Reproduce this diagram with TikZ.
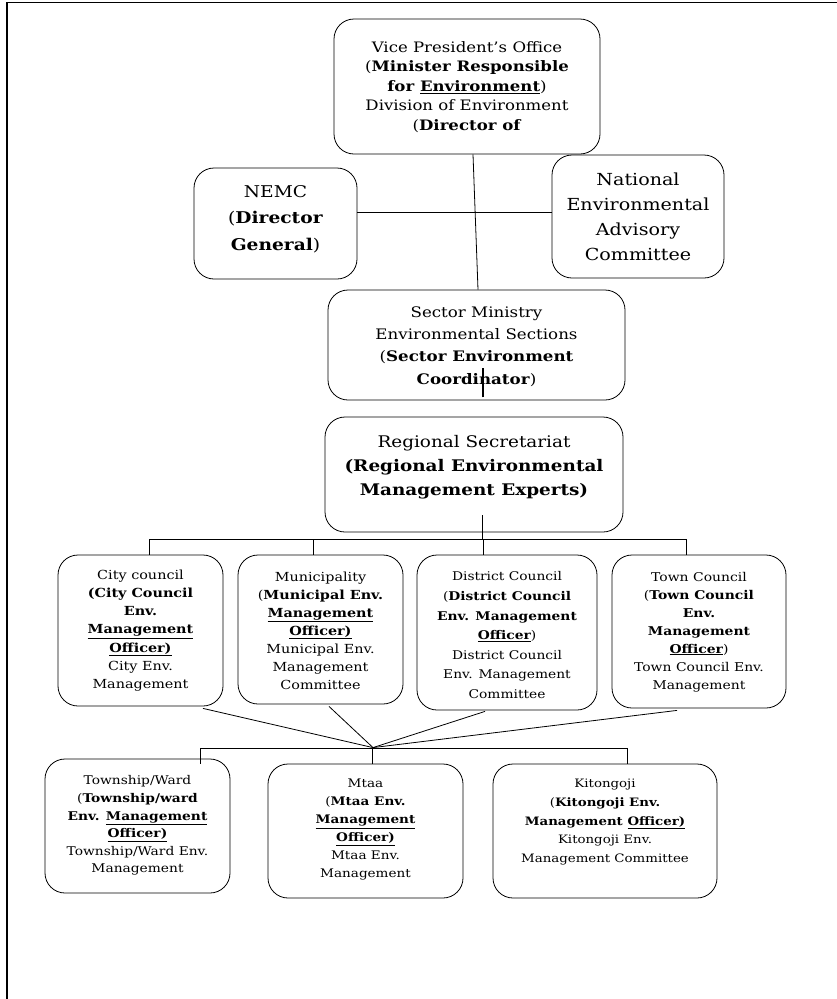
\documentclass[tikz,border=0pt]{standalone}
\usepackage{fontspec}
\setmainfont{DejaVu Serif}[FakeStretch=1.15]
\usetikzlibrary{calc}
\tikzset{
  orgbox/.style={draw, line width=0.8pt, rounded corners=20pt, inner sep=0pt},
  boxtext/.style={inner sep=0pt, align=center, anchor=north},
  link/.style={line width=0.8pt},
}
\begin{document}
\begin{tikzpicture}[x=1pt,y=-1pt]
\useasboundingbox (0,0) rectangle (837,999);
% frame
\draw[line width=1.5pt] (7,999) -- (7,2.5) -- (837,2.5);
% boxes
\node[orgbox, minimum width=266pt, minimum height=135pt] (vpo) at (467,86.5) {};
\node[orgbox, minimum width=163pt, minimum height=111pt] (nemc) at (275.5,223.5) {};
\node[orgbox, minimum width=172pt, minimum height=123pt] (neac) at (638,216.5) {};
\node[orgbox, minimum width=297pt, minimum height=110pt] (sector) at (476.5,345) {};
\node[orgbox, minimum width=298pt, minimum height=115pt] (regional) at (474,474.5) {};
\node[orgbox, minimum width=165pt, minimum height=151pt] (city) at (140.5,630.5) {};
\node[orgbox, minimum width=165pt, minimum height=149pt] (muni) at (320.5,629.5) {};
\node[orgbox, minimum width=180pt, minimum height=155pt] (district) at (507,632.5) {};
\node[orgbox, minimum width=174pt, minimum height=153pt] (town) at (699,631.5) {};
\node[orgbox, minimum width=185pt, minimum height=134pt] (township) at (137.5,826) {};
\node[orgbox, minimum width=195pt, minimum height=134pt] (mtaa) at (365.5,831) {};
\node[orgbox, minimum width=224pt, minimum height=134pt] (kitongoji) at (605,831) {};
% texts
\node[boxtext, font=\fontsize{14.4}{19.5}\selectfont] (vpoT) at ($(vpo.north)+(0,22.5)$)
  {Vice President’s Office\\(\textbf{Minister Responsible}\\\textbf{for \underline{Environment}})\\Division of Environment\\(\textbf{Director of}};
\node[boxtext, font=\fontsize{16.2}{26.5}\selectfont] (nemcT) at ($(nemc.north)+(0,17.5)$)
  {NEMC\\(\textbf{Director}\\\textbf{General})};
\node[boxtext, font=\fontsize{16.6}{25}\selectfont] (neacT) at ($(neac.north)+(0,18.5)$)
  {National\\Environmental\\Advisory\\Committee};
\node[boxtext, font=\fontsize{14.5}{22.2}\selectfont] (sectorT) at ($(sector.north)+(0,17)$)
  {Sector Ministry\\Environmental Sections\\(\textbf{Sector Environment}\\\textbf{Coordinator})};
\node[boxtext, font=\fontsize{16}{24}\selectfont] (regionalT) at ($(regional.north)+(0,18.5)$)
  {Regional Secretariat\\\textbf{(Regional Environmental}\\\textbf{Management Experts)}};
\node[boxtext, font=\fontsize{12.5}{18.2}\selectfont] (cityT) at ($(city.north)+(0,15)$)
  {City council\\\textbf{(City Council}\\\textbf{Env.}\\\textbf{\underline{Management}}\\\textbf{\underline{Officer)}}\\City Env.\\Management};
\node[boxtext, font=\fontsize{12.5}{18}\selectfont] (muniT) at ($(muni.north)+(0,17)$)
  {Municipality\\(\textbf{Municipal Env.}\\\textbf{\underline{Management}}\\\textbf{\underline{Officer)}}\\Municipal Env.\\Management\\Committee};
\node[boxtext, font=\fontsize{12}{19.6}\selectfont] (districtT) at ($(district.north)+(0,17)$)
  {District Council\\(\textbf{District Council}\\\textbf{Env. Management}\\\textbf{\underline{Officer}})\\District Council\\Env. Management\\Committee};
\node[boxtext, font=\fontsize{12.1}{18}\selectfont] (townT) at ($(town.north)+(0,17)$)
  {Town Council\\(\textbf{Town Council}\\\textbf{Env.}\\\textbf{Management}\\\textbf{\underline{Officer}})\\Town Council Env.\\Management};
\node[boxtext, font=\fontsize{12}{17.6}\selectfont] (townshipT) at ($(township.north)+(0,17)$)
  {Township/Ward\\(\textbf{Township/ward}\\\textbf{Env. \underline{Management}}\\\textbf{\underline{Officer)}}\\Township/Ward Env.\\Management};
\node[boxtext, font=\fontsize{11.8}{18}\selectfont] (mtaaT) at ($(mtaa.north)+(0,15.5)$)
  {Mtaa\\(\textbf{Mtaa Env.}\\\textbf{\underline{Management}}\\\textbf{\underline{Officer)}}\\Mtaa Env.\\Management};
\node[boxtext, font=\fontsize{11.6}{18.7}\selectfont] (kitongojiT) at ($(kitongoji.north)+(0,15.5)$)
  {Kitongoji\\(\textbf{Kitongoji Env.}\\\textbf{Management \underline{Officer)}}\\Kitongoji Env.\\Management Committee};
% connectors
\draw[link] ($(vpo.south)+(6,0)$) -- ($(sector.north)+(1.5,0)$);
\draw[link] ($(nemc.east)+(0,-11.5)$) -- ($(neac.west)+(0,-4.5)$);
\draw[line width=2.5pt] ($(sector.south)+(6.5,-3)$) -- ($(sector.south)+(6.5,-32)$);
\draw[link] ($(regional.south)+(8,-17)$) -- ++(0,25);
\draw[link] ($(city.north)+(8.5,0)$) -- ++(0,-15) -| ($(town.north)+(-13,0)$);
\draw[link] ($(muni.north)+(-7.5,0)$) -- ++(0,-15);
\draw[link] ($(district.north)+(-24,0)$) -- ++(0,-15);
\coordinate (hub) at ($(mtaa.north)+(7.5,-16)$);
\draw[link] ($(city.south)+(62.5,2)$) -- (hub);
\draw[link] ($(muni.south)+(8.5,2)$) -- (hub);
\draw[link] ($(district.south)+(-22,1)$) -- (hub);
\draw[link] ($(town.south)+(-22,2)$) -- (hub);
\draw[link] ($(township.north)+(62.5,5)$) -- ++(0,-15) -| ($(kitongoji.north)+(22,0)$);
\draw[link] ($(mtaa.north)+(6.5,0)$) -- ++(0,-15);
\end{tikzpicture}
\end{document}
